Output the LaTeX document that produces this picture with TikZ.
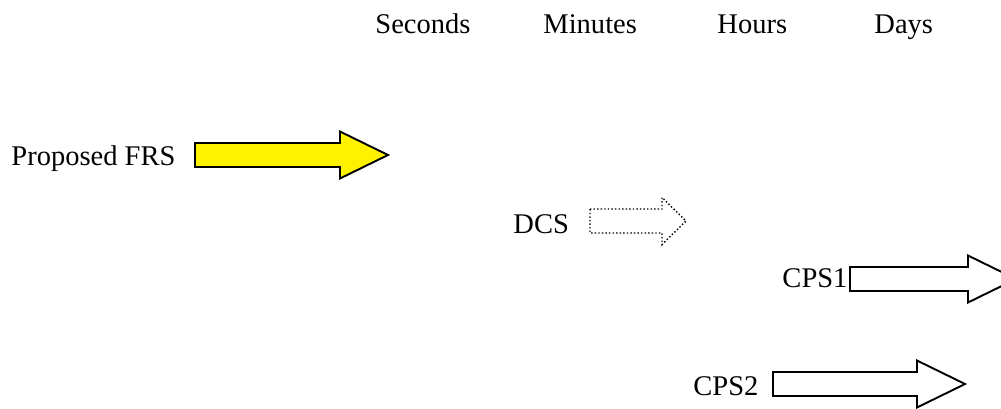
\documentclass[tikz,border=0pt]{standalone}
\usepackage{fontspec}
\setmainfont{Liberation Serif}
\usetikzlibrary{calc}
\def\blockarrow[#1](#2,#3)(#4:#5){\draw[#1] (#2,{#3-12}) -- (#4,{#3-12}) -- (#4,{#3-23.5}) -- (#5,#3) -- (#4,{#3+23.5}) -- (#4,{#3+12}) -- (#2,{#3+12}) -- cycle;}
\tikzset{timetext/.style={inner sep=0pt, anchor=base west, font=\fontsize{12}{14}\selectfont}}

\begin{document}
\begin{tikzpicture}[x=0.421pt, y=-0.421pt]
			%%%%% START %%%%%
			
			\useasboundingbox (0, 0) rectangle (1001, 408);
			
			\node[timetext] (seconds) at (375, 33) {Seconds};
			\node[timetext] (minutes) at (543, 33) {Minutes};
			\node[timetext] (hours) at (717, 33) {Hours};
			\node[timetext] (days) at (874, 33) {Days};
			
			\node[timetext] (frs) at (11, 165) {Proposed FRS};
			\blockarrow[line width=0.8pt, fill=yellow](195, 155)(340:388)
			
			\node[timetext] (dcs) at (513, 233) {DCS};
			\blockarrow[line width=0.6pt, dash pattern=on 0.6pt off 0.9pt](590, 221)(662:686)
			
			\node[timetext] (cps1) at (782, 287) {CPS1};
			\blockarrow[line width=0.8pt](850, 279)(968:1016)
			
			\node[timetext] (cps2) at (693, 395) {CPS2};
			\blockarrow[line width=0.8pt](773, 384)(917:965)
			
			%%%%% END %%%%%
		\end{tikzpicture}
\end{document}
